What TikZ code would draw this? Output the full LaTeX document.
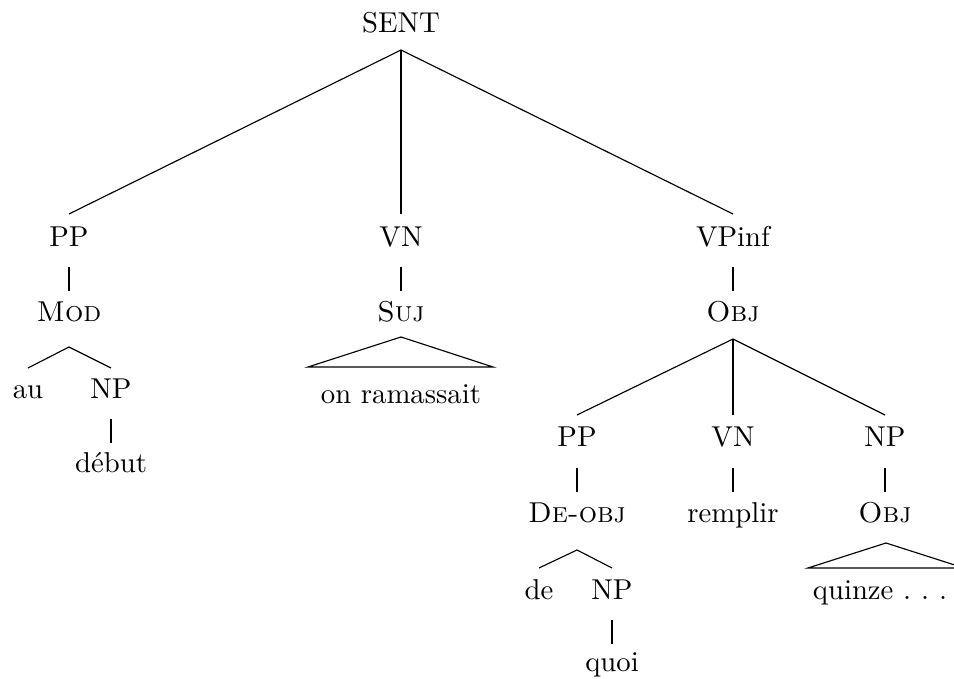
\documentclass[tikz,border=0pt]{standalone}
\usepackage{fontspec}
\usetikzlibrary{calc}
\newcommand{\spacedots}{.\kern3.5pt.\kern3.5pt.}
\begin{document}
\begin{tikzpicture}[x=0.348pt,y=-0.348pt,
  lbl/.style={anchor=base,inner sep=0pt,outer sep=0pt},
  edge/.style={line width=0.4pt}]
\useasboundingbox (0,0) rectangle (954,679);

% labels, placed on their baselines
\node[lbl] (sent)  at (401,33)  {SENT};
\node[lbl] (pp1)   at (69,247)  {PP};
\node[lbl] (vn1)   at (401,247) {VN};
\node[lbl] (vpinf) at (733,247) {VPinf};
\node[lbl] (mod)   at (69,322)  {\textsc{Mod}};
\node[lbl] (suj)   at (401,322) {\textsc{Suj}};
\node[lbl] (obja)  at (733,322) {\textsc{Obj}};
\node[lbl] (au)    at (28,399)  {au};
\node[lbl] (np1)   at (111,399) {NP};
\node[lbl] (ramas) at (401,404) {on ramassait};
\node[lbl] (debut) at (111,473) {début};
\node[lbl] (pp2)   at (577,447) {PP};
\node[lbl] (vn2)   at (733,447) {VN};
\node[lbl] (np2)   at (885,447) {NP};
\node[lbl] (deobj) at (577,523) {\textsc{De-obj}};
\node[lbl] (rempl) at (733,523) {remplir};
\node[lbl] (objb)  at (885,523) {\textsc{Obj}};
\node[lbl] (de)    at (539,600) {de};
\node[lbl] (np3)   at (612,600) {NP};
\node[lbl] (quinz) at (880,600) {quinze \spacedots};
\node[lbl] (quoi)  at (612,672) {quoi};

% branches from SENT
\foreach \c in {pp1,vn1,vpinf}
  \draw[edge] ($(sent.base)+(0,17)$) -- ($(\c.base)+(0,-33)$);

% unary branches
\draw[edge] ($(pp1.base)+(0,20)$)   -- ($(mod.base)+(0,-31)$);
\draw[edge] ($(vn1.base)+(0,20)$)   -- ($(suj.base)+(0,-31)$);
\draw[edge] ($(vpinf.base)+(0,20)$) -- ($(obja.base)+(0,-31)$);
\draw[edge] ($(np1.base)+(0,20)$)   -- ($(debut.base)+(0,-30)$);
\draw[edge] ($(pp2.base)+(0,21)$)   -- ($(deobj.base)+(0,-31)$);
\draw[edge] ($(vn2.base)+(0,21)$)   -- ($(rempl.base)+(0,-31)$);
\draw[edge] ($(np2.base)+(0,21)$)   -- ($(objb.base)+(0,-31)$);
\draw[edge] ($(np3.base)+(0,20)$)   -- ($(quoi.base)+(0,-28)$);

% Mod: au NP
\foreach \c in {au,np1}
  \draw[edge] ($(mod.base)+(0,25)$) -- ($(\c.base)+(0,-31)$);

% De-obj: de NP
\foreach \c in {de,np3}
  \draw[edge] ($(deobj.base)+(0,27)$) -- ($(\c.base)+(0,-32)$);

% Obj: PP VN NP
\foreach \c in {pp2,vn2,np2}
  \draw[edge] ($(obja.base)+(0,17)$) -- ($(\c.base)+(0,-32)$);

% roofs over unanalysed material
\draw[edge] ($(suj.base)+(0,15)$) -- ($(ramas.base)+(-93,-37)$)
  -- ($(ramas.base)+(92,-37)$) -- cycle;
\draw[edge] ($(objb.base)+(1,20)$) -- ($(quinz.base)+(-72,-32)$)
  -- ($(quinz.base)+(84,-32)$) -- cycle;
\end{tikzpicture}
\end{document}
